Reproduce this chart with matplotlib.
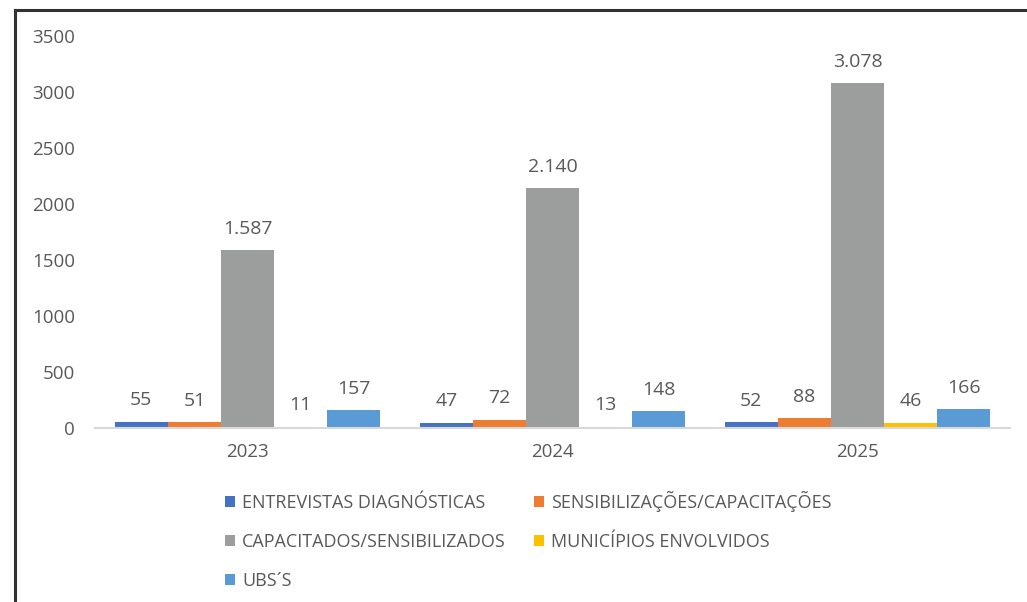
import matplotlib
matplotlib.use("Agg")
import matplotlib.pyplot as plt
import numpy as np
from matplotlib.lines import Line2D

plt.rcParams['font.family'] = ['Open Sans', 'DejaVu Sans']

years = ['2023', '2024', '2025']
series_names = ['ENTREVISTAS DIAGNÓSTICAS', 'SENSIBILIZAÇÕES/CAPACITAÇÕES',
                'CAPACITADOS/SENSIBILIZADOS', 'MUNICÍPIOS ENVOLVIDOS', 'UBS´S']
entrevistas = [55, 47, 52]
sensibilizacoes = [51, 72, 88]
capacitados = [1587, 2140, 3078]
municipios = [11, 13, 46]
ubs = [157, 148, 166]
colors = ['#4472C4', '#ED7D31', '#9C9E9E', '#FFC000', '#5B9BD5']

values = [entrevistas, sensibilizacoes, capacitados, municipios, ubs]
text_color = '#595959'


def fmt(v):
    return f"{v:,}".replace(',', '.')


fig = plt.figure(figsize=(10.27, 6.02), dpi=100)
ax = fig.add_axes([95 / 1027, 1 - 428 / 602, 915 / 1027, 392 / 602])

x = np.arange(len(years))
w = 0.174
handles = []
for i, (name, vals) in enumerate(zip(series_names, values)):
    pos = x + (i - 2) * w
    bars = ax.bar(pos, vals, w, color=colors[i], label=name, zorder=2)
    handles.append(bars)
    for b, v in zip(bars, vals):
        ax.annotate(fmt(v), (b.get_x() + b.get_width() / 2, v),
                    xytext=(0, 15.5), textcoords='offset points',
                    ha='center', va='center', fontsize=14, color=text_color)

ax.set_xlim(-0.5, 2.5)
ax.set_ylim(0, 3500)
ax.set_yticks(range(0, 3501, 500))
ax.set_xticks(x)
ax.set_xticklabels(years)
ax.tick_params(axis='both', length=0, labelsize=13.5, colors=text_color)
ax.tick_params(axis='y', pad=14.5)
ax.tick_params(axis='x', pad=11)
for s in ['top', 'right', 'left']:
    ax.spines[s].set_visible(False)
ax.spines['bottom'].set_color('#D9D9D9')
ax.spines['bottom'].set_linewidth(1.5)

# legend is filled row by row in the reference
order = [0, 2, 4, 1, 3]
fig.legend([handles[k] for k in order], [series_names[k] for k in order],
           loc='upper left', bbox_to_anchor=(225 / 1027, 1 - 491 / 602), ncol=2,
           frameon=False, fontsize=13, handlelength=0.55, handleheight=0.55,
           handletextpad=0.4, columnspacing=1.55, labelspacing=1.15,
           borderpad=0, borderaxespad=0, labelcolor=text_color)

# frame lines of the cropped picture
fig.add_artist(Line2D([15 / 1027, 1], [1 - 10 / 602, 1 - 10 / 602], color='#333333', lw=2.2))
fig.add_artist(Line2D([15 / 1027, 15 / 1027], [0, 1 - 10 / 602], color='#333333', lw=2.2))

fig.savefig('out.png', dpi=100)
